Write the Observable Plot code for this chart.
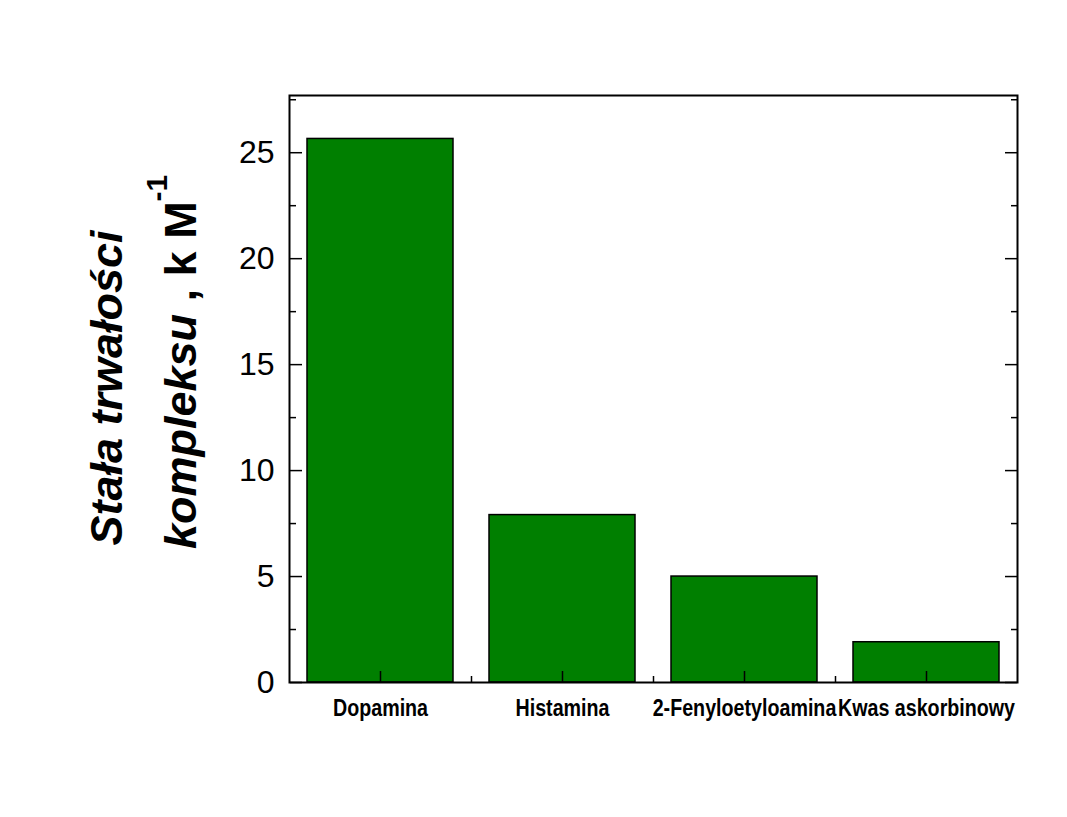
<!DOCTYPE html>
<html>
<head>
<meta charset="utf-8">
<script src="https://cdn.jsdelivr.net/npm/d3@7"></script>
<script src="https://cdn.jsdelivr.net/npm/@observablehq/plot@0.6"></script>
<style>
  html, body { margin: 0; padding: 0; background: white; }
  #chart svg { display: block; }
</style>
</head>
<body>
<div id="chart"></div>
<script>
const categories = ["Dopamina", "Histamina", "2-Fenyloetyloamina", "Kwas askorbinowy"];
const values = [25.65, 7.9, 5.0, 1.9];
const yMajorTicks = [0, 5, 10, 15, 20, 25];
const yMinorTicks = [2.5, 7.5, 12.5, 17.5, 22.5, 27.5];
const yLabelLine1 = "Stała trwałości";
const yLabelLine2Italic = "kompleksu";
const yLabelLine2Plain = " , k M";
const yLabelSup = "-1";

const data = categories.map((c, i) => ({name: c, value: values[i]}));

const W = 1067, H = 817, mL = 289, mR = 50, mT = 95, mB = 135;
const step = (W - mL - mR) / categories.length;
const font = "'Liberation Sans', Arial, sans-serif";

const chart = Plot.plot({
  width: W,
  height: H,
  marginLeft: mL,
  marginRight: mR,
  marginTop: mT,
  marginBottom: mB,
  style: {background: "white", color: "black", fontFamily: font, overflow: "visible"},
  x: {domain: categories, paddingInner: 0.2, paddingOuter: 0.1, axis: null},
  y: {domain: [0, 27.7], axis: null},
  marks: [
    Plot.barY(data, {x: "name", y: "value", fill: "#007f00", stroke: "black", strokeWidth: 1.5}),
    // x major ticks (inward, at band centers)
    Plot.axisX({ticks: categories, anchor: "top", frameAnchor: "bottom", tickSize: 12, strokeWidth: 1.5, text: null, label: null}),
    // x minor ticks (band boundaries)
    Plot.axisX({ticks: categories.slice(0, -1), anchor: "top", frameAnchor: "bottom", tickSize: 7, strokeWidth: 1.5, dx: step / 2, text: null, label: null}),
    // x labels
    Plot.axisX({ticks: categories, anchor: "bottom", tickSize: 0, tickPadding: 16, fontSize: 24, fontWeight: "bold", label: null}),
    // y ticks left (inward)
    Plot.axisY({ticks: yMajorTicks, anchor: "right", frameAnchor: "left", tickSize: 12, strokeWidth: 1.5, text: null, label: null}),
    Plot.axisY({ticks: yMinorTicks, anchor: "right", frameAnchor: "left", tickSize: 6, strokeWidth: 1.5, text: null, label: null}),
    // y ticks right (inward)
    Plot.axisY({ticks: yMajorTicks, anchor: "left", frameAnchor: "right", tickSize: 12, strokeWidth: 1.5, text: null, label: null}),
    Plot.axisY({ticks: yMinorTicks, anchor: "left", frameAnchor: "right", tickSize: 6, strokeWidth: 1.5, text: null, label: null}),
    // y labels
    Plot.axisY({ticks: yMajorTicks, anchor: "left", tickSize: 0, tickPadding: 15, fontSize: 32, label: null}),
    Plot.frame({stroke: "black", strokeWidth: 2})
  ]
});

document.getElementById("chart").append(chart);

const svg = d3.select(chart);

// condense the category labels horizontally (narrow bold face in the reference)
svg.selectAll('g[aria-label="x-axis tick label"] text').each(function() {
  const el = d3.select(this);
  const tr = el.attr("transform") || "";
  const x = +(el.attr("x") || 0);
  el.attr("transform", `${tr} translate(${x},0) scale(0.82,1) translate(${-x},0)`);
});

svg.append("text")
  .attr("transform", "translate(122,388) rotate(-90)")
  .attr("text-anchor", "middle")
  .attr("font-family", font)
  .attr("font-size", 45)
  .attr("font-weight", "bold")
  .attr("font-style", "italic")
  .attr("fill", "black")
  .text(yLabelLine1);

const t2 = svg.append("text")
  .attr("transform", "translate(196,549) rotate(-90)")
  .attr("text-anchor", "start")
  .attr("font-family", font)
  .attr("font-size", 45)
  .attr("font-weight", "bold")
  .attr("fill", "black");
t2.append("tspan").attr("font-style", "italic").text(yLabelLine2Italic);
t2.append("tspan").text(yLabelLine2Plain);
t2.append("tspan").attr("font-size", 30).attr("dy", -29).text(yLabelSup);
</script>
</body>
</html>
